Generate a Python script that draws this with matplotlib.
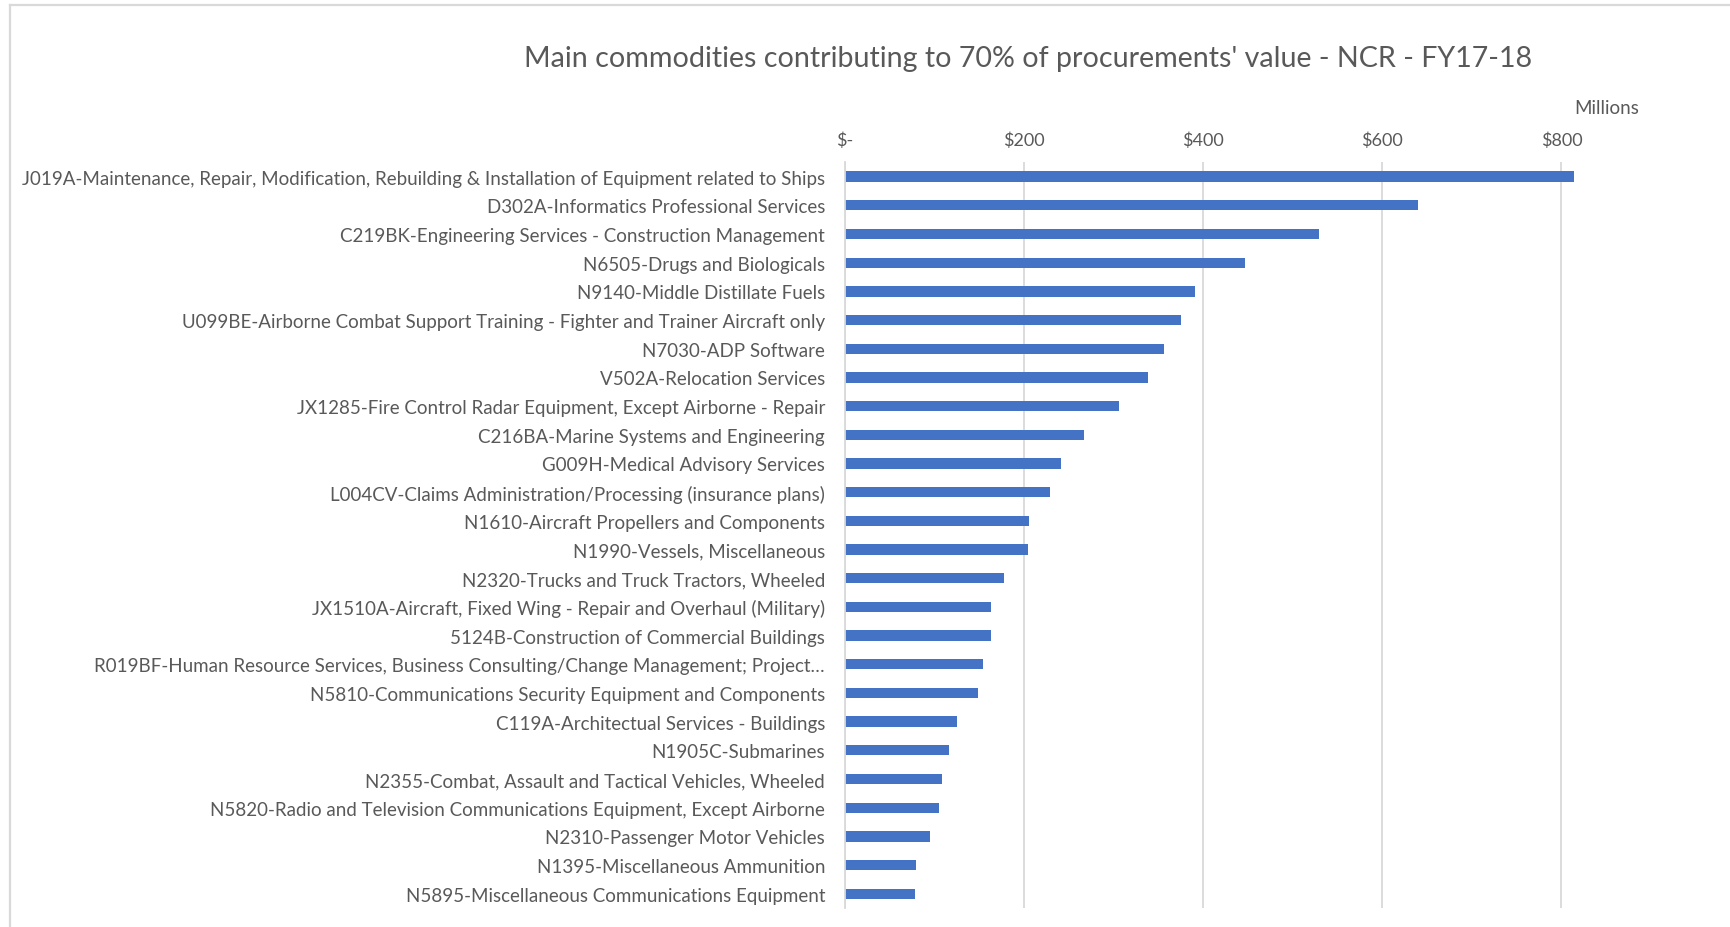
import matplotlib
matplotlib.use("Agg")
import matplotlib.pyplot as plt
from matplotlib.lines import Line2D
from matplotlib.ticker import FixedLocator, FuncFormatter

plt.rcParams['font.family'] = ['Lato', 'DejaVu Sans']

categories = [
    "J019A-Maintenance, Repair, Modification, Rebuilding & Installation of Equipment related to Ships",
    "D302A-Informatics Professional Services",
    "C219BK-Engineering Services - Construction Management",
    "N6505-Drugs and Biologicals",
    "N9140-Middle Distillate Fuels",
    "U099BE-Airborne Combat Support Training - Fighter and Trainer Aircraft only",
    "N7030-ADP Software",
    "V502A-Relocation Services",
    "JX1285-Fire Control Radar Equipment, Except Airborne - Repair",
    "C216BA-Marine Systems and Engineering",
    "G009H-Medical Advisory Services",
    "L004CV-Claims Administration/Processing (insurance plans)",
    "N1610-Aircraft Propellers and Components",
    "N1990-Vessels, Miscellaneous",
    "N2320-Trucks and Truck Tractors, Wheeled",
    "JX1510A-Aircraft, Fixed Wing - Repair and Overhaul (Military)",
    "5124B-Construction of Commercial Buildings",
    "R019BF-Human Resource Services, Business Consulting/Change Management; Project\u2026",
    "N5810-Communications Security Equipment and Components",
    "C119A-Architectual Services - Buildings",
    "N1905C-Submarines",
    "N2355-Combat, Assault and Tactical Vehicles, Wheeled",
    "N5820-Radio and Television Communications Equipment, Except Airborne",
    "N2310-Passenger Motor Vehicles",
    "N1395-Miscellaneous Ammunition",
    "N5895-Miscellaneous Communications Equipment",
]

# Procurement value, millions of dollars
values = [814, 640, 529, 447, 391, 376, 357, 339, 306, 267,
          242, 229, 206, 205, 178, 164, 163, 154, 149, 125,
          117, 109, 106, 95, 80, 79]

tick_values = [0, 200, 400, 600, 800]

TEXT = "#595959"
BAR = "#4472C4"
GRID = "#D9D9D9"

fig = plt.figure(figsize=(17.30, 9.28), dpi=100)
ax = fig.add_axes([844.5 / 1730, 1 - 909.1 / 928, (1651 - 844.5) / 1730, (909.1 - 163.3) / 928])

pos = list(range(len(categories)))
ax.barh(pos, values, height=0.36, color=BAR, zorder=3)
ax.set_ylim(len(categories) - 0.5, -0.5)
ax.set_xlim(0, 900)

ax.set_yticks(pos)
ax.set_yticklabels(categories, fontsize=13.5, color=TEXT)
ax.tick_params(axis='y', length=0, pad=14)

ax.xaxis.set_major_locator(FixedLocator(tick_values))
ax.xaxis.set_major_formatter(FuncFormatter(lambda v, p: "$-" if v == 0 else f"${v:,.0f}"))
ax.xaxis.tick_top()
ax.tick_params(axis='x', length=0, pad=10, labelsize=13, labelcolor=TEXT)

ax.grid(axis='x', color=GRID, linewidth=1.3, zorder=0)
for s in ['top', 'right', 'bottom']:
    ax.spines[s].set_visible(False)
ax.spines['left'].set_color(GRID)
ax.spines['left'].set_linewidth(1.3)
ax.spines['left'].set_zorder(4)

fig.text(1028 / 1730, 1 - 59 / 928, "Main commodities contributing to 70% of procurements' value - NCR - FY17-18",
         ha='center', va='center', fontsize=20.6, color=TEXT)
fig.text(1607 / 1730, 1 - 109 / 928, "Millions", ha='center', va='center', fontsize=13.5, color=TEXT)

# outer chart border (top and left edges)
fig.add_artist(Line2D([10 / 1730, 1], [1 - 6 / 928, 1 - 6 / 928], color=GRID, linewidth=1.6, transform=fig.transFigure))
fig.add_artist(Line2D([10 / 1730, 10 / 1730], [0, 1 - 6 / 928], color=GRID, linewidth=1.6, transform=fig.transFigure))

fig.savefig("out.png", dpi=100)
